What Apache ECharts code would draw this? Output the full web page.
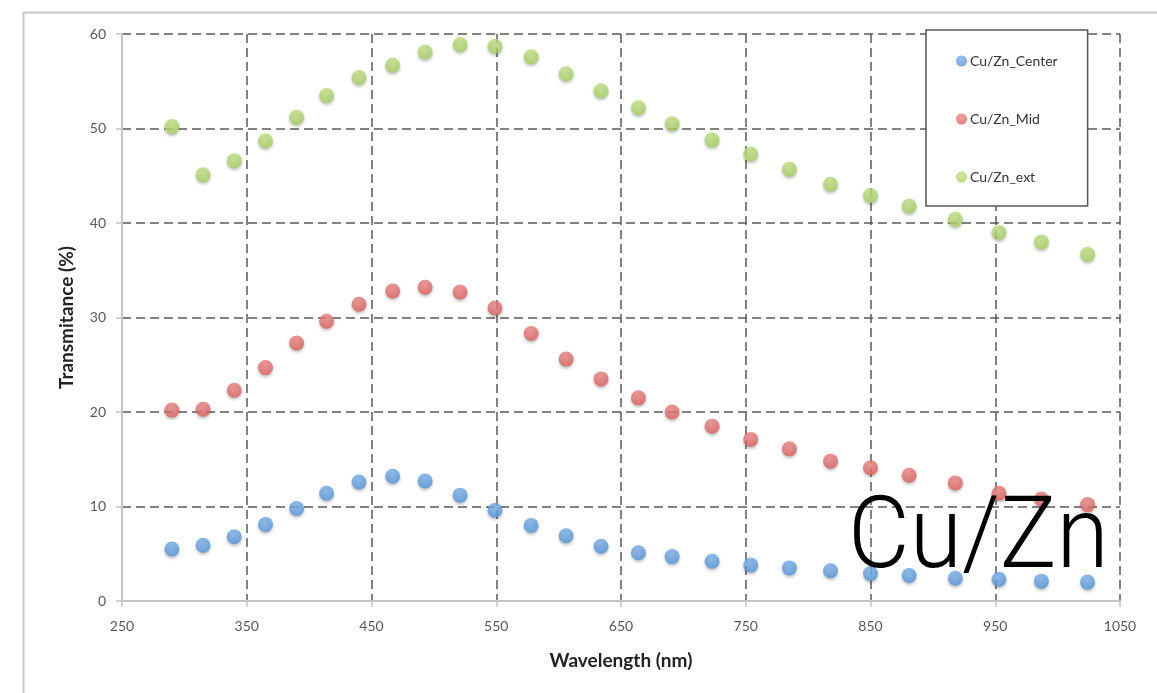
<!DOCTYPE html>
<html>
<head>
<meta charset="utf-8">
<script src="https://cdn.jsdelivr.net/npm/echarts@6/dist/echarts.min.js"></script>
<style>
  html, body { margin: 0; padding: 0; background: #fff; }
  #chart { width: 1157px; height: 693px; }
</style>
</head>
<body>
<div id="chart"></div>
<script>
// wavelengths (nm) shared by all three series
const wavelengths = [290, 315, 340, 365, 390, 414, 440, 467, 493, 521, 549, 578, 606,
    634, 664, 691, 723, 754, 785, 818, 850, 881, 918, 953, 987, 1024]

const centerValues = [5.5, 5.9, 6.8, 8.1, 9.8, 11.4, 12.6, 13.2, 12.7, 11.2, 9.6, 8.0, 6.9,
    5.8, 5.1, 4.7, 4.2, 3.8, 3.5, 3.2, 2.9, 2.7, 2.4, 2.3, 2.1, 2.0]

const midValues = [20.2, 20.3, 22.3, 24.7, 27.3, 29.6, 31.4, 32.8, 33.2, 32.7, 31.0, 28.3, 25.6,
    23.5, 21.5, 20.0, 18.5, 17.1, 16.1, 14.8, 14.1, 13.3, 12.5, 11.4, 10.8, 10.2]

const extValues = [50.2, 45.1, 46.6, 48.7, 51.2, 53.5, 55.4, 56.7, 58.1, 58.9, 58.7, 57.6, 55.8,
    54.0, 52.2, 50.5, 48.8, 47.3, 45.7, 44.1, 42.9, 41.8, 40.4, 39.0, 38.0, 36.7]

const seriesNames = ['Cu/Zn_Center', 'Cu/Zn_Mid', 'Cu/Zn_ext']
const colors = ['#4d93dd', '#e05a58', '#a5d15a']
const lightColors = ['#7fb3ea', '#ec8a88', '#c3e38a']

const font = 'Lato, "Open Sans", sans-serif'

const toPairs = (values) => values.map((v, i) => [wavelengths[i], v])

// slightly shaded dots, like the spreadsheet markers
const dot = (i) => ({
    color: new echarts.graphic.RadialGradient(0.45, 0.35, 0.7, [
        { offset: 0, color: lightColors[i] },
        { offset: 1, color: colors[i] }
    ]),
    shadowBlur: 3,
    shadowOffsetY: 2,
    shadowColor: 'rgba(0,0,0,0.3)'
})

const chart = echarts.init(document.getElementById('chart'))

chart.setOption({
    animation: false,
    color: colors,
    grid: {
        left: 122,
        top: 34,
        right: 37,
        bottom: 92
    },
    legend: {
        orient: 'vertical',
        left: 926,
        top: 30,
        padding: [24, 30, 22, 30],
        itemGap: 44,
        itemWidth: 11,
        itemHeight: 14,
        icon: 'circle',
        borderColor: '#555',
        borderWidth: 1.5,
        backgroundColor: '#fff',
        textStyle: {
            fontFamily: font,
            fontSize: 14,
            color: '#333',
            padding: [0, 0, 0, -2]
        },
        data: seriesNames
    },
    xAxis: {
        type: 'value',
        min: 250,
        max: 1050,
        interval: 100,
        name: 'Wavelength (nm)',
        nameLocation: 'middle',
        nameGap: 50,
        nameTextStyle: {
            fontFamily: font,
            fontWeight: 'bold',
            fontSize: 19,
            color: '#222'
        },
        axisLine: { lineStyle: { color: '#c4c4c4', width: 2 } },
        axisTick: { show: true, length: 6, lineStyle: { color: '#c4c4c4', width: 1.5 } },
        axisLabel: {
            margin: 18,
            fontFamily: font,
            fontSize: 14,
            color: '#595959',
            formatter: (v) => String(v)
        },
        splitLine: {
            show: true,
            lineStyle: { color: '#5a5a5a', width: 1.5, type: [9, 5] }
        }
    },
    yAxis: {
        type: 'value',
        min: 0,
        max: 60,
        interval: 10,
        name: 'Transmitance (%)',
        nameLocation: 'middle',
        nameGap: 46,
        nameTextStyle: {
            fontFamily: font,
            fontWeight: 'bold',
            fontSize: 19,
            color: '#222'
        },
        axisLine: { show: true, lineStyle: { color: '#c4c4c4', width: 2 } },
        axisTick: { show: true, length: 6, lineStyle: { color: '#c4c4c4', width: 1.5 } },
        axisLabel: {
            margin: 16,
            fontFamily: font,
            fontSize: 14,
            color: '#595959'
        },
        splitLine: {
            show: true,
            lineStyle: { color: '#5a5a5a', width: 1.5, type: [9, 5] }
        }
    },
    graphic: [
        {
            type: 'rect',
            left: 21,
            top: 10,
            shape: { width: 1300, height: 800 },
            style: { fill: 'none', stroke: '#c8c8c8', lineWidth: 2 },
            silent: true,
            z: -1
        },
        {
            type: 'text',
            x: 848,
            y: 492,
            scaleX: 0.95,
            z: 100,
            style: {
                text: 'Cu/Zn',
                fontFamily: 'Roboto, "Liberation Sans", sans-serif',
                fontWeight: 300,
                fontSize: 100,
                fill: '#000'
            }
        }
    ],
    series: [
        { name: seriesNames[0], type: 'scatter', symbolSize: 15, itemStyle: dot(0), data: toPairs(centerValues) },
        { name: seriesNames[1], type: 'scatter', symbolSize: 15, itemStyle: dot(1), data: toPairs(midValues) },
        { name: seriesNames[2], type: 'scatter', symbolSize: 15, itemStyle: dot(2), data: toPairs(extValues) }
    ]
})
</script>
</body>
</html>
